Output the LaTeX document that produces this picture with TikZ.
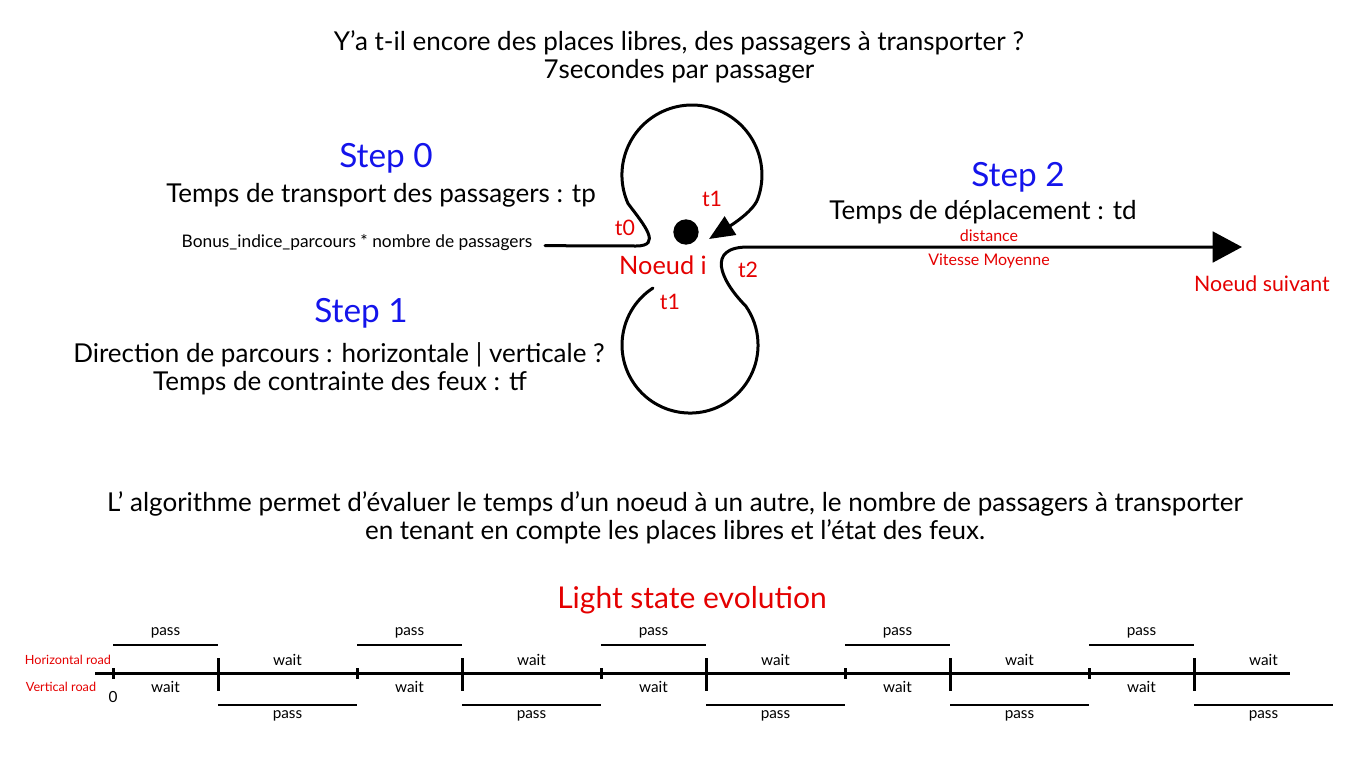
\documentclass[tikz,border=0pt]{standalone}
\usepackage{fontspec}
\setmainfont{Lato}
\usepackage{tikz}
\usetikzlibrary{arrows.meta,positioning}
\definecolor{stepblue}{RGB}{20, 20, 235}
\definecolor{nodered}{RGB}{228, 0, 0}

\begin{document}
\begin{tikzpicture}[x=0.75pt, y=-0.75pt, >=Stealth]
        \useasboundingbox (0,0) rectangle (1366,768);
        \tikzset{
            txt/.style={font=\fontsize{19.5}{23}\selectfont},
            steptxt/.style={font=\fontsize{25}{30}\selectfont, text=stepblue},
            small/.style={font=\fontsize{11.5}{14}\selectfont},
            redtxt/.style={font=\fontsize{16}{19}\selectfont, text=nodered},
            loopline/.style={line width=2.25pt, line cap=round},
        }

        % Question on top
        \node[txt] (question) at (679, 43) {Y'a t-il encore des places libres, des passagers à transporter ?};
        \node[txt] (persec) at (679, 71) {7secondes par passager};

        % Step 0
        \node[steptxt] (step0) at (386, 158) {Step 0};
        \node[txt] (tp) at (381, 195) {Temps de transport des passagers : tp};
        \node[font=\fontsize{13}{16}\selectfont] (bonus) at (357, 243) {Bonus\_indice\_parcours * nombre de passagers};

        % Step 1
        \node[steptxt] (step1) at (361, 313) {Step 1};
        \node[txt] (dir) at (339, 355) {Direction de parcours : horizontale | verticale ?};
        \node[txt] (tf) at (340, 383) {Temps de contrainte des feux : tf};

        % Step 2
        \node[steptxt] (step2) at (1018, 177) {Step 2};
        \node[txt] (td) at (983, 212) {Temps de déplacement : td};
        \node[font=\fontsize{12}{14}\selectfont, text=nodered] (dist) at (989, 236) {distance};
        \node[font=\fontsize{12}{14}\selectfont, text=nodered] (vit) at (989, 261) {Vitesse Moyenne};

        % Node i and its loops
        \fill (686, 232) circle (9.5pt);
        \node[redtxt, font=\fontsize{19}{22}\selectfont] (noeud) at (663, 265) {Noeud i};
        \node[redtxt] (t0) at (625, 228) {t0};
        \node[redtxt] (t1a) at (712, 199) {t1};
        \node[redtxt] (t1b) at (670, 302) {t1};
        \node[redtxt] (t2) at (748, 270) {t2};
        \coordinate (suivant) at (1242, 247);
        \node[redtxt, font=\fontsize{16}{19}\selectfont] (nsuiv) at (1262, 284) {Noeud suivant};

        % top loop (step 0)
        \draw[loopline, -{Triangle[length=19pt, width=16pt]}] ([xshift=6pt, yshift=-2pt]bonus.east) -- (636, 246)
            .. controls (662, 246) and (645, 226) .. (628, 203.5)
            arc (156:380:70)
            .. controls (752.7, 213) and (725, 229) .. (709, 239);
        % bottom loop (step 1) and road to next node (step 2)
        \draw[loopline, -{Triangle[length=22pt, width=23pt]}] (653, 288)
            arc (237:-35:68)
            .. controls (720, 280) and (706, 247) .. (748, 247) -- (suivant);

        % Conclusion
        \node[txt] (algo1) at (675, 504) {L' algorithme permet d'évaluer le temps d'un noeud à un autre, le nombre de passagers à transporter};
        \node[txt] (algo2) at (675, 532) {en tenant en compte les places libres et l'état des feux.};

        % Light state evolution
        \node[font=\fontsize{22.5}{27}\selectfont, text=nodered] (light) at (692, 600) {Light state evolution};
        \node[font=\fontsize{9.5}{11}\selectfont, text=nodered] (hroad) at (68, 660) {Horizontal road};
        \node[font=\fontsize{9.5}{11}\selectfont, text=nodered] (vroad) at (61, 687) {Vertical road};
        \node[small] (zero) at (113, 697) {0};
        \draw[line width=2.25pt] (95, 673) -- (1290, 673);
        \foreach \i in {0,...,4} {
            \pgfmathsetmacro\a{113+244*\i}
            \pgfmathsetmacro\b{\a+105}
            \pgfmathsetmacro\c{\a+244}
            \draw[line width=2.25pt] (\a, 668) -- (\a, 679);
            \draw[line width=2.25pt] (\b, 658) -- (\b, 691);
            \draw[line width=1pt] (\a, 645) -- (\b, 645);
            \draw[line width=1pt] (\b, 705) -- (\c, 705);
            \node[small] (passH\i) at ({(\a+\b)/2}, 633) {pass};
            \node[small] (waitV\i) at ({(\a+\b)/2}, 687) {wait};
            \node[small] (waitH\i) at ({(\b+\c)/2}, 660) {wait};
            \node[small] (passV\i) at ({(\b+\c)/2}, 716) {pass};
        }
    \end{tikzpicture}
\end{document}
